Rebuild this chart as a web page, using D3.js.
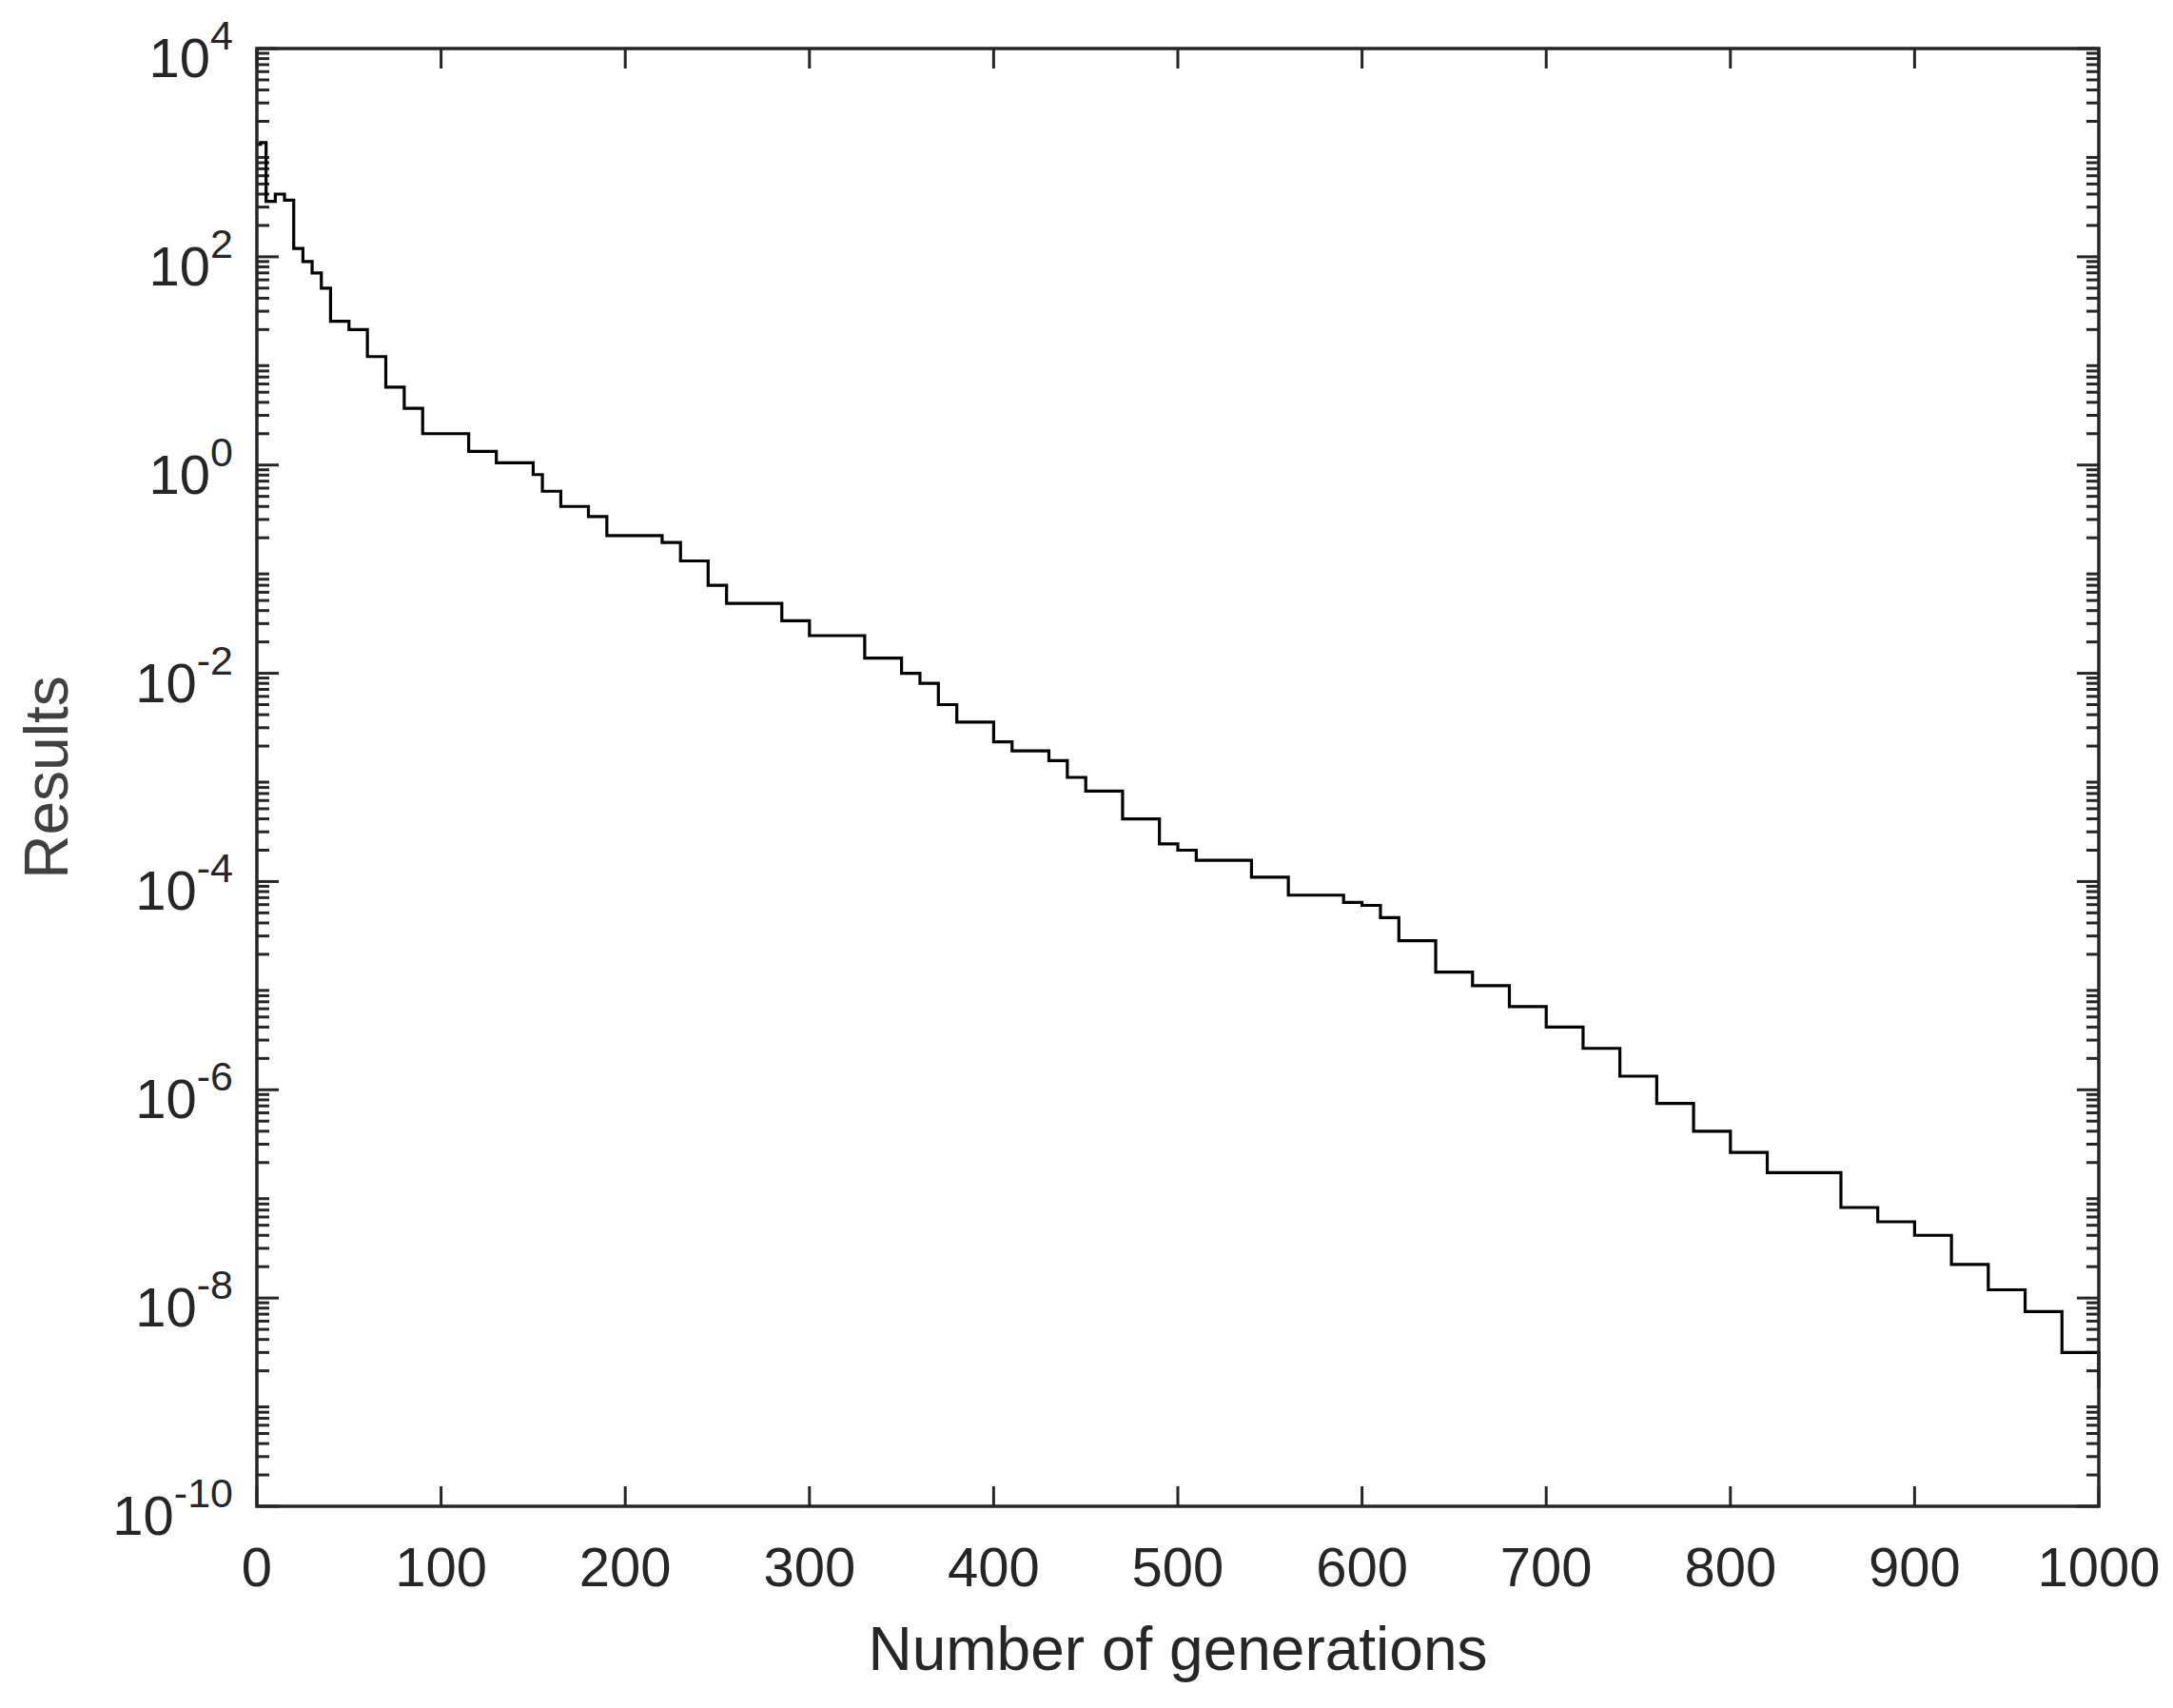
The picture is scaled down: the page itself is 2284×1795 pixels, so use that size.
<!DOCTYPE html>
<html>
<head>
<meta charset="utf-8">
<script src="https://d3js.org/d3.v7.min.js"></script>
<style>
  body { margin: 0; background: #fff; }
  text { font-family: "Liberation Sans", Arial, sans-serif; fill: #262626; }
</style>
</head>
<body>
<svg id="chart" width="2284" height="1795"></svg>
<script>
// generations where the best result changes, and the best result from there on
const generations = [0, 2, 5, 10, 15, 20, 25, 30, 35, 40, 50, 60, 70, 80, 90, 110, 115, 130, 150, 155,
  165, 180, 190, 210, 220, 230, 245, 255, 280, 285, 300, 320, 330, 350, 360, 370, 380, 400, 410, 430,
  440, 450, 470, 490, 500, 510, 530, 540, 560, 580, 590, 600, 610, 620, 640, 660, 680, 700, 710, 720,
  740, 760, 780, 800, 820, 840, 860, 880, 900, 920, 940, 960, 980, 1000];
const results = [1.2e3, 1.25e3, 3.4e2, 4.0e2, 3.5e2, 1.2e2, 9.0e1, 7.0e1, 5.0e1, 2.4e1, 2.0e1, 1.1e1, 5.6e0, 3.5e0, 2.0e0, 2.0e0, 1.35e0, 1.05e0, 8.1e-1, 5.6e-1,
  4.0e-1, 3.2e-1, 2.1e-1, 2.1e-1, 1.8e-1, 1.2e-1, 7.0e-2, 4.7e-2, 4.7e-2, 3.2e-2, 2.3e-2, 2.3e-2, 1.4e-2, 1.0e-2, 8.0e-3, 5.0e-3, 3.4e-3, 2.2e-3, 1.8e-3, 1.45e-3,
  1.0e-3, 7.4e-4, 4.0e-4, 2.3e-4, 2.0e-4, 1.6e-4, 1.6e-4, 1.1e-4, 7.4e-5, 7.4e-5, 6.3e-5, 5.9e-5, 4.5e-5, 2.7e-5, 1.35e-5, 1.0e-5, 6.3e-6, 4.0e-6, 4.0e-6, 2.5e-6,
  1.35e-6, 7.4e-7, 4.0e-7, 2.5e-7, 1.6e-7, 1.6e-7, 7.4e-8, 5.4e-8, 4.0e-8, 2.1e-8, 1.2e-8, 7.4e-9, 3.0e-9, 1.35e-9];
const xTicks = [0, 100, 200, 300, 400, 500, 600, 700, 800, 900, 1000];
const yExponents = [4, 2, 0, -2, -4, -6, -8, -10];

const svg = d3.select("#chart");
const L = 270, R = 2206, T = 51, B = 1583;
const x = d3.scaleLinear().domain([0, 1000]).range([L, R]);
const y = d3.scaleLog().domain([1e-10, 1e4]).range([B, T]);
const axisColor = "#262626";

// minor ticks on log axis (left and right)
const minor = [];
for (let e = -10; e < 4; e++) for (let m = 2; m <= 9; m++) minor.push(m * Math.pow(10, e));
const g = svg.append("g").attr("stroke", axisColor).attr("stroke-width", 3);
minor.forEach(v => {
  g.append("line").attr("x1", L).attr("x2", L + 13).attr("y1", y(v)).attr("y2", y(v));
  g.append("line").attr("x1", R).attr("x2", R - 13).attr("y1", y(v)).attr("y2", y(v));
});
yExponents.forEach(e => {
  const v = Math.pow(10, e);
  g.append("line").attr("x1", L).attr("x2", L + 23).attr("y1", y(v)).attr("y2", y(v));
  g.append("line").attr("x1", R).attr("x2", R - 23).attr("y1", y(v)).attr("y2", y(v));
});
xTicks.forEach(t => {
  g.append("line").attr("x1", x(t)).attr("x2", x(t)).attr("y1", B).attr("y2", B - 21);
  g.append("line").attr("x1", x(t)).attr("x2", x(t)).attr("y1", T).attr("y2", T + 21);
});

// data line
const line = d3.line().x((d, i) => x(generations[i])).y(d => y(d)).curve(d3.curveStepAfter);
svg.append("path").datum(results).attr("d", line)
  .attr("fill", "none").attr("stroke", "#000").attr("stroke-width", 3.2);

// box
svg.append("rect").attr("x", L).attr("y", T).attr("width", R - L).attr("height", B - T)
  .attr("fill", "none").attr("stroke", axisColor).attr("stroke-width", 3.5);

// y tick labels
yExponents.forEach(e => {
  const t = svg.append("text").attr("x", 245).attr("y", y(Math.pow(10, e)) + 30)
    .attr("text-anchor", "end");
  t.append("tspan").attr("font-size", 58).text("10");
  t.append("tspan").attr("font-size", 43).attr("dy", -29).text(e < 0 ? "-" + (-e) : String(e));
});

// x tick labels
svg.selectAll(".xl").data(xTicks).enter().append("text")
  .attr("x", d => x(d)).attr("y", 1667).attr("text-anchor", "middle")
  .attr("font-size", 58).text(d => d);

// axis titles
svg.append("text").attr("x", (L + R) / 2).attr("y", 1755).attr("text-anchor", "middle")
  .attr("font-size", 64).text("Number of generations");
svg.append("text").attr("transform", "translate(71," + ((T + B) / 2) + ") rotate(-90)")
  .attr("text-anchor", "middle").attr("font-size", 64).style("fill", "#404040").text("Results");
</script>
</body>
</html>
